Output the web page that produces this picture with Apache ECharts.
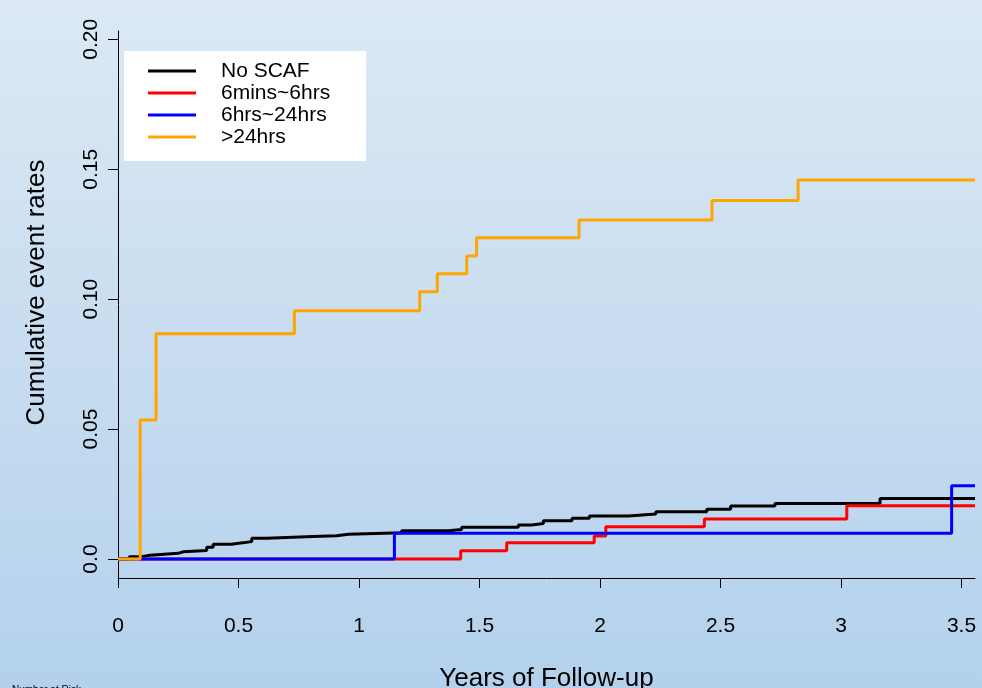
<!DOCTYPE html>
<html>
<head>
<meta charset="utf-8">
<title>Cumulative event rates</title>
<script src="https://cdn.jsdelivr.net/npm/echarts@6/dist/echarts.min.js"></script>
<style>
    html, body { margin: 0; padding: 0; }
    #chart {
        width: 982px;
        height: 688px;
        background: linear-gradient(to bottom, #dce9f5 0%, #c8ddf0 50%, #b3d1ec 100%);
    }
</style>
</head>
<body>
<div id="chart"></div>
<script>
var xTicks = [0, 0.5, 1, 1.5, 2, 2.5, 3, 3.5];
var yTicks = [0, 0.05, 0.10, 0.15, 0.20];
var seriesNames = ["No SCAF", "6mins~6hrs", "6hrs~24hrs", ">24hrs"];
var seriesColors = ["#000000", "#ff0000", "#0000ff", "#ffa500"];

// step times (years) and cumulative rate after each step
var noScafTimes = [0, 0.047, 0.098, 0.133, 0.250, 0.271, 0.368, 0.395, 0.472, 0.493, 0.555, 0.617, 0.809, 0.907, 0.956,
    1.177, 1.371, 1.426, 1.661, 1.717, 1.765, 1.884, 1.956, 2.117, 2.232, 2.443, 2.542, 2.726, 3.162, 3.556];
var noScafRates = [0, 0.0009, 0.0015, 0.0022, 0.0028, 0.0033, 0.0045, 0.0057, 0.0060, 0.0067, 0.0080, 0.0087, 0.0090, 0.0095, 0.0101,
    0.0109, 0.0114, 0.0122, 0.0131, 0.0137, 0.0147, 0.0157, 0.0166, 0.0173, 0.0182, 0.0192, 0.0204, 0.0214, 0.0233, 0.0233];

var minsTimes = [0, 1.422, 1.613, 1.976, 2.024, 2.433, 3.024, 3.556];
var minsRates = [0, 0.0032, 0.0063, 0.0089, 0.0124, 0.0154, 0.0205, 0.0205];

var hrsTimes = [0, 1.147, 3.459, 3.556];
var hrsRates = [0, 0.0099, 0.0282, 0.0282];

var longTimes = [0, 0.092, 0.158, 0.732, 1.252, 1.325, 1.447, 1.488, 1.913, 2.465, 2.822, 3.556];
var longRates = [0, 0.0535, 0.0867, 0.0955, 0.1029, 0.1098, 0.1166, 0.1236, 0.1305, 0.1380, 0.1459, 0.1459];

var fontFamily = "'Liberation Sans', Arial, sans-serif";

function toPairs(times, rates) {
    return times.map(function (t, i) { return [t, rates[i]]; });
}

var allData = [
    toPairs(noScafTimes, noScafRates),
    toPairs(minsTimes, minsRates),
    toPairs(hrsTimes, hrsRates),
    toPairs(longTimes, longRates)
];

var series = [];
for (var i = 0; i < seriesNames.length; i++) {
    series.push({
        name: seriesNames[i],
        type: "line",
        step: "end",
        data: allData[i],
        showSymbol: false,
        color: seriesColors[i],
        lineStyle: { width: 3, color: seriesColors[i] },
        z: 2 + i
    });
}

var option = {
    animation: false,
    backgroundColor: "transparent",
    textStyle: { fontFamily: fontFamily },
    grid: { left: 118, right: 7, top: 31, bottom: 110, outerBoundsMode: "none" },
    legend: {
        orient: "vertical",
        left: 124,
        top: 51,
        backgroundColor: "#ffffff",
        borderWidth: 0,
        padding: [9, 36, 13, 24],
        itemGap: 0,
        itemWidth: 48,
        itemHeight: 3,
        icon: "rect",
        data: seriesNames,
        textStyle: {
            fontFamily: fontFamily,
            fontSize: 21,
            color: "#000",
            lineHeight: 14,
            padding: [8, 0, 0, 20]
        }
    },
    xAxis: {
        type: "value",
        min: 0,
        max: 3.556,
        name: "Years of Follow-up",
        nameLocation: "middle",
        nameGap: 88,
        nameTextStyle: { fontFamily: fontFamily, fontSize: 26, color: "#000" },
        axisLine: { show: true, onZero: false, lineStyle: { color: "#000", width: 1 } },
        axisTick: { show: true, length: 10, lineStyle: { color: "#000" }, customValues: xTicks },
        axisLabel: {
            customValues: xTicks,
            margin: 38,
            fontSize: 21,
            color: "#000",
            fontFamily: fontFamily
        },
        splitLine: { show: false }
    },
    yAxis: {
        type: "value",
        min: -0.0073,
        max: 0.2032,
        name: "Cumulative event rates",
        nameLocation: "middle",
        nameGap: 68,
        nameTextStyle: { fontFamily: fontFamily, fontSize: 26, color: "#000", padding: [0, 0, 0, 24] },
        axisLine: { show: true, onZero: false, lineStyle: { color: "#000", width: 1 } },
        axisTick: { show: true, length: 10, lineStyle: { color: "#000" }, customValues: yTicks },
        axisLabel: {
            customValues: yTicks,
            rotate: 90,
            margin: 16,
            fontSize: 21,
            color: "#000",
            fontFamily: fontFamily,
            formatter: function (v) { return v === 0 ? "0.0" : v.toFixed(2); }
        },
        splitLine: { show: false }
    },
    graphic: [{
        type: "text",
        left: 12,
        top: 685,
        style: { text: "Number at Risk", fontFamily: fontFamily, fontSize: 10, fill: "#000" }
    }],
    series: series
};

echarts.init(document.getElementById("chart")).setOption(option);
</script>
</body>
</html>
